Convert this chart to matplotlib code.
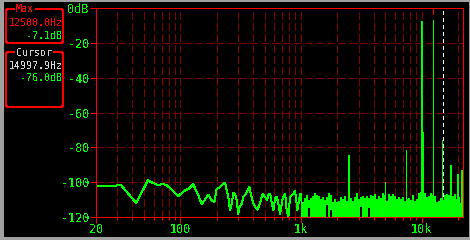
import matplotlib
matplotlib.use("Agg")
import matplotlib.pyplot as plt
from matplotlib.patches import Rectangle, FancyBboxPatch
from matplotlib.ticker import FixedLocator, FixedFormatter, NullFormatter

# ---------------- data ----------------
# low-frequency part of the spectrum (individual points, Hz / dB)
low_freq = [10.77, 21.5, 32.3, 43.1, 53.8, 59.5, 64.6, 70.0, 76.0, 86.1, 96.3,
            101.4, 109.4, 118.0, 128.0, 140.0, 150.6, 170.8, 182.0, 191.7, 200.0,
            213.0, 225.0, 235.0, 250.0, 258.0, 267.0, 275.0, 284.0, 294.0, 302.0,
            309.0, 323.0, 333.0, 351.0, 374.0, 384.0, 399.0, 417.0, 436.0, 458.0,
            482.0, 504.0, 521.0, 537.0, 555.0, 574.0, 590.0, 610.0, 630.0, 650.0,
            671.0, 707.0, 739.0, 762.0, 787.0, 812.0, 866.0, 894.0, 935.0, 983.0,
            1004.0]
low_db = [-102.3, -102.3, -101.8, -112.0, -99.0, -100.5, -101.6, -101.2, -101.4, -104.6, -108.1,
          -106.6, -104.7, -103.7, -101.2, -107.0, -112.7, -107.1, -110.4, -111.4, -104.0,
          -103.0, -101.2, -100.4, -108.5, -116.2, -112.3, -106.2, -106.6, -110.4, -118.5,
          -114.3, -112.3, -108.5, -106.6, -102.7, -106.6, -111.4, -114.3, -115.8, -111.9,
          -106.6, -108.5, -110.4, -107.5, -106.6, -112.3, -116.2, -109.4, -108.5, -112.3,
          -118.1, -108.9, -106.6, -116.2, -119.6, -108.5, -106.6, -105.0, -116.2, -106.6,
          -110.0]

# dense high-frequency noise floor (upper / lower envelope per column)
hf_freq = [1004, 1043, 1083, 1126, 1170, 1215, 1262, 1311, 1363, 1416, 1471, 1528,
           1588, 1650, 1714, 1781, 1850, 1922, 1997, 2075, 2156, 2240, 2327, 2418,
           2512, 2610, 2711, 2817, 2927, 3041, 3159, 3282, 3410, 3543, 3681, 3824,
           3973, 4128, 4289, 4456, 4629, 4810, 4997, 5192, 5394, 5604, 5823, 6050,
           6285, 6530, 6785, 7049, 7323, 7609, 7905, 8213, 8533, 8866, 9211, 9570,
           9943, 10330, 10733, 11151, 11585, 12037, 12506, 12993, 13500, 14026, 14572,
           15140, 15730, 16343, 16979, 17640, 18328, 19042, 19784, 20555, 21355, 22050]
hf_top = [-106.5, -111.5, -109.0, -107.5, -110.5, -109.0, -107.8, -106.2, -107.6, -108.0,
          -109.8, -108.4, -110.0, -108.8, -106.4, -107.4, -111.2, -109.8, -111.6, -110.6,
          -108.6, -109.4, -108.0, -110.8, -110.0, -109.2, -110.6, -108.8, -106.4, -109.6,
          -108.4, -107.8, -109.0, -108.2, -109.2, -107.2, -108.2, -107.0, -109.4, -108.0,
          -109.2, -106.4, -107.6, -110.6, -107.0, -108.2, -106.6, -107.8, -109.8, -108.8,
          -109.4, -108.4, -110.8, -109.8, -109.0, -110.0, -107.6, -110.8, -109.8, -106.4,
          -105.6, -105.0, -106.0, -108.8, -107.8, -106.2, -107.2, -107.8, -111.4, -110.6,
          -109.0, -110.0, -107.4, -106.8, -107.6, -106.6, -107.8, -107.0, -109.6, -108.6,
          -112.0, -112.6]
hf_bottom = [-121, -121, -121, -121, -115, -121, -121, -121, -121, -121, -121, -121,
             -121, -113, -121, -116, -121, -121, -121, -121, -121, -121, -121, -121,
             -121, -121, -121, -121, -121, -121, -114, -121, -121, -121, -115, -121,
             -121, -121, -121, -121, -121, -121, -121, -121, -121, -121, -121, -121,
             -121, -121, -121, -121, -121, -121, -121, -121, -121, -121, -121, -121,
             -121, -121, -121, -121, -121, -121, -121, -121, -121, -121, -121, -121,
             -121, -121, -121, -121, -121, -121, -121, -121, -121, -121]

# harmonic spikes
harm_freq = [2500, 5000, 7500, 9950, 10000, 10330, 12500, 15000, 17500, 20000, 21600]
harm_db = [-84.5, -100.0, -81.6, -85.0, -7.2, -71.0, -7.1, -76.0, -90.3, -95.3, -93.0]

max_freq, max_db = 12500.0, -7.1
cursor_freq, cursor_db = 14997.9, -76.0

x_major = [20, 100, 1000, 10000]
x_major_labels = ["20", "100", "1k", "10k"]
x_minor = [30, 40, 50, 60, 70, 80, 90, 200, 300, 400, 500, 600, 700, 800, 900,
           2000, 3000, 4000, 5000, 6000, 7000, 8000, 9000, 20000]
y_ticks = [0, -20, -40, -60, -80, -100, -120]
y_labels = ["0dB", "-20", "-40", "-60", "-80", "-100", "-120"]

# ---------------- style ----------------
GREEN = "#00ff00"
RED = "#ff0000"
GRID = "#800000"
plt.rcParams["font.family"] = ["DejaVu Sans Mono"]
plt.rcParams["text.antialiased"] = False
PX = 0.72  # 1 pixel in points at 100 dpi
FLOOR = -120

fig = plt.figure(figsize=(4.7, 2.4), dpi=100, facecolor="#a0a0a0")
fig.patches.append(Rectangle((4 / 470, 3 / 240), 465 / 470, 235 / 240,
                             transform=fig.transFigure, facecolor="black",
                             edgecolor="none", zorder=-5))

ax = fig.add_axes([96 / 470, 1 - 217 / 240, (463 - 96) / 470, (217 - 8) / 240])
ax.set_zorder(2)
ax.set_facecolor("black")
ax.set_xscale("log")
ax.set_xlim(20, 22050)
ax.set_ylim(-120, 0)

ax.xaxis.set_major_locator(FixedLocator(x_major))
ax.xaxis.set_major_formatter(FixedFormatter(x_major_labels))
ax.xaxis.set_minor_locator(FixedLocator(x_minor))
ax.xaxis.set_minor_formatter(NullFormatter())
ax.yaxis.set_major_locator(FixedLocator(y_ticks))
ax.yaxis.set_major_formatter(FixedFormatter(y_labels))
ax.yaxis.set_minor_locator(FixedLocator([]))

ax.tick_params(axis="both", which="both", colors=RED, labelcolor=GREEN,
               labelsize=8.5, width=PX, direction="out")
ax.tick_params(axis="y", which="major", length=4, pad=1.0)
ax.tick_params(axis="x", which="major", length=4, pad=0.3)
ax.tick_params(axis="x", which="minor", length=2.2)
for s in ax.spines.values():
    s.set_color(RED)
    s.set_linewidth(PX)
    s.set_antialiased(False)
    s.set_zorder(6)

ax.grid(True, which="both", axis="x", color=GRID, linewidth=PX,
        linestyle=(0, (7, 3)), antialiased=False)
ax.grid(True, which="major", axis="y", color=GRID, linewidth=PX,
        linestyle=(0, (7, 3)), antialiased=False)
ax.set_axisbelow(True)

# cursor line
ax.axvline(cursor_freq, color="white", linewidth=PX, linestyle=(0, (3, 3)),
           antialiased=False, zorder=2)

# spectrum
ax.plot(low_freq, low_db, color=GREEN, linewidth=PX, antialiased=False, zorder=3)
ax.fill_between(hf_freq, hf_bottom, hf_top, step="mid", color=GREEN,
                linewidth=0, antialiased=False, zorder=3)

# spikes as 1-pixel-wide bars (width relative to frequency on the log axis)
spike_w = [f * 0.024 for f in harm_freq]
ax.bar(harm_freq, [d - FLOOR for d in harm_db], width=spike_w, bottom=FLOOR,
       color=GREEN, linewidth=0, antialiased=False, zorder=4)
ax.bar([10000], [-7.2 - FLOOR], width=[10000 * 0.036], bottom=FLOOR,
       color=GREEN, linewidth=0, antialiased=False, zorder=4)

# max marker at top
ax.bar([max_freq], [4.0], width=[max_freq * 0.024], bottom=-4.0,
       color=RED, linewidth=0, antialiased=False, zorder=5)

# ---------------- info boxes ----------------
ov = fig.add_axes([0, 0, 1, 1])
ov.set_xlim(0, 470)
ov.set_ylim(240, 0)
ov.axis("off")
ov.set_zorder(10)

for (bx, by, bw, bh) in [(6, 9, 57, 34), (6, 52, 57, 55)]:
    ov.add_patch(FancyBboxPatch((bx, by), bw, bh,
                                boxstyle="round,pad=0,rounding_size=2",
                                fill=False, edgecolor=RED, linewidth=1.0,
                                antialiased=False))

box_font = dict(fontsize=7.2, family="DejaVu Sans Mono")
ov.text(25, 8.7, "Max", color=RED, ha="center", va="center",
        bbox=dict(facecolor="black", edgecolor="none", pad=1.0), **box_font)
ov.text(62.5, 23.3, f"{max_freq:.1f}Hz", color=RED, ha="right", va="center", **box_font)
ov.text(62.5, 35.7, f"{max_db:.1f}dB", color=GREEN, ha="right", va="center", **box_font)
ov.text(34, 53.3, "Cursor", color="#d0d0d0", ha="center", va="center",
        bbox=dict(facecolor="black", edgecolor="none", pad=1.0), **box_font)
ov.text(62.5, 65.7, f"{cursor_freq:.1f}Hz", color="#d8d8d8", ha="right", va="center", **box_font)
ov.text(62.5, 78.3, f"{cursor_db:.1f}dB", color=GREEN, ha="right", va="center", **box_font)

fig.savefig("out.png", dpi=100, facecolor=fig.get_facecolor())
